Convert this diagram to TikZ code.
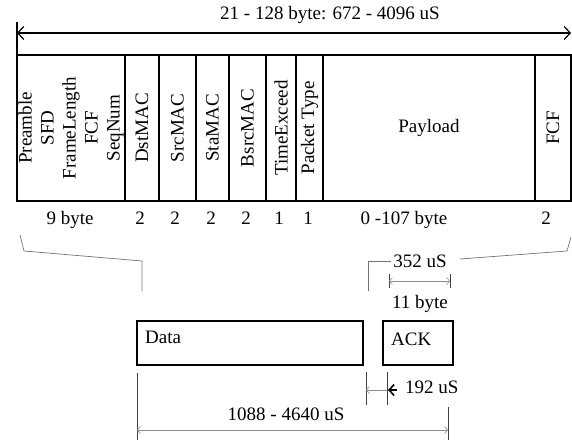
\documentclass[tikz,border=0pt]{standalone}
\usepackage{fontspec}
\setmainfont{Liberation Serif}
\usetikzlibrary{arrows.meta}

\begin{document}
\begin{tikzpicture}[x=1pt, y=-1pt, font=\fontsize{19}{22}\selectfont,
		field/.style={draw, line width=1.1pt, rotate=90, minimum width=146pt, inner sep=0pt, align=center},
		msgbox/.style={draw, line width=1.1pt, minimum height=44pt, inner sep=0pt},
		lbl/.style={anchor=base, inner sep=0pt},
		dimline/.style={draw=black!45, line width=0.6pt, {Straight Barb[length=3pt,width=7pt]}-{Straight Barb[length=3pt,width=7pt]}},
		tick/.style={draw=black!75, line width=0.7pt},
		callout/.style={draw=black!55, line width=0.7pt}]
		\useasboundingbox (0,0) rectangle (572,441);
		% packet fields
		\node[field, minimum height=108pt] (pre) at (71,128) {Preamble\\SFD\\FrameLength\\FCF\\SeqNum};
		\node[field, minimum height=34pt] (dst) at (142,128) {DstMAC};
		\node[field, minimum height=37pt] (src) at (177.5,128) {SrcMAC};
		\node[field, minimum height=33pt] (sta) at (212.5,128) {StaMAC};
		\node[field, minimum height=37pt] (bsrc) at (247.5,128) {BsrcMAC};
		\node[field, minimum height=30pt] (texc) at (281,128) {TimeExceed};
		\node[field, minimum height=27pt] (ptype) at (309.5,128) {Packet Type};
		\node[draw, line width=1.1pt, minimum width=212pt, minimum height=146pt, inner sep=0pt] (pay) at (429,128) {Payload};
		\node[field, minimum height=36pt] (fcf) at (553,128) {FCF};
		% total length
		\coordinate (tl) at (17,22);
		\coordinate (tb) at (17,55);
		\coordinate (al) at (17,33);
		\coordinate (ar) at (571,33);
		\draw[line width=1.1pt] (tl) -- (tb);
		\draw[line width=1.2pt, {Straight Barb[length=6pt,width=13pt]}-{Straight Barb[length=6pt,width=13pt]}] (al) -- (ar);
		\node[lbl] (total) at (330,20) {21 - 128 byte: 672 - 4096 uS};
		% sizes
		\node[lbl] (s1) at (70,224) {9 byte};
		\node[lbl] (s2) at (140,224) {2};
		\node[lbl] (s3) at (175,224) {2};
		\node[lbl] (s4) at (211,224) {2};
		\node[lbl] (s5) at (246,224) {2};
		\node[lbl] (s6) at (279,224) {1};
		\node[lbl] (s7) at (308,224) {1};
		\node[lbl] (s8) at (404,224) {0 -107 byte};
		\node[lbl] (s9) at (546,224) {2};
		% data and ack
		\node[msgbox, minimum width=226pt] (data) at (250,343) {};
		\node[msgbox, minimum width=70pt] (ack) at (418,343) {};
		\node[anchor=base west, inner sep=0pt] (datat) at (145,343) {Data};
		\node[anchor=base west, inner sep=0pt] (ackt) at (391,345) {ACK};
		% callouts
		\node[lbl] (t352) at (420,267) {352 uS};
		\coordinate (c1) at (20,235);
		\coordinate (c2) at (24,251);
		\coordinate (c3) at (142,261);
		\coordinate (c4) at (142,291);
		\draw[callout] (c1) -- (c2) -- (c3) -- (c4);
		\coordinate (d1) at (571,237);
		\coordinate (d2) at (567,251);
		\coordinate (d3) at (460,259);
		\coordinate (d4) at (391,261);
		\coordinate (d5) at (368,261);
		\coordinate (d6) at (368,291);
		\draw[callout] (d1) -- (d2) -- (d3);
		\draw[callout] (d4) -- (d5) -- (d6);
		% ack length
		\coordinate (a1) at (389,274);
		\coordinate (a2) at (389,288);
		\coordinate (a3) at (450,274);
		\coordinate (a4) at (450,288);
		\draw[tick] (a1) -- (a2);
		\draw[tick] (a3) -- (a4);
		\draw[dimline] (389,281) -- (450,281);
		\node[lbl] (t11) at (420,308) {11 byte};
		% turnaround
		\coordinate (g1) at (366,372);
		\coordinate (g2) at (366,405);
		\coordinate (g3) at (387,372);
		\coordinate (g4) at (387,405);
		\draw[tick] (g1) -- (g2);
		\draw[tick] (g3) -- (g4);
		\draw[draw=black!45, line width=0.6pt, -{Straight Barb[length=3pt,width=7pt]}] (387,390) -- (366,390);
		\draw[line width=1.6pt, -{Straight Barb[length=5pt,width=11pt]}] (397,390) -- (388,390);
		\node[lbl, anchor=base west] (t192) at (405,393) {192 uS};
		% total exchange
		\coordinate (e1) at (137,373);
		\coordinate (e2) at (137,440);
		\coordinate (e3) at (448,407);
		\coordinate (e4) at (448,440);
		\draw[tick] (e1) -- (e2);
		\draw[tick] (e3) -- (e4);
		\draw[dimline] (137,430) -- (448,430);
		\node[lbl] (texch) at (286,420) {1088 - 4640 uS};
	\end{tikzpicture}
\end{document}
